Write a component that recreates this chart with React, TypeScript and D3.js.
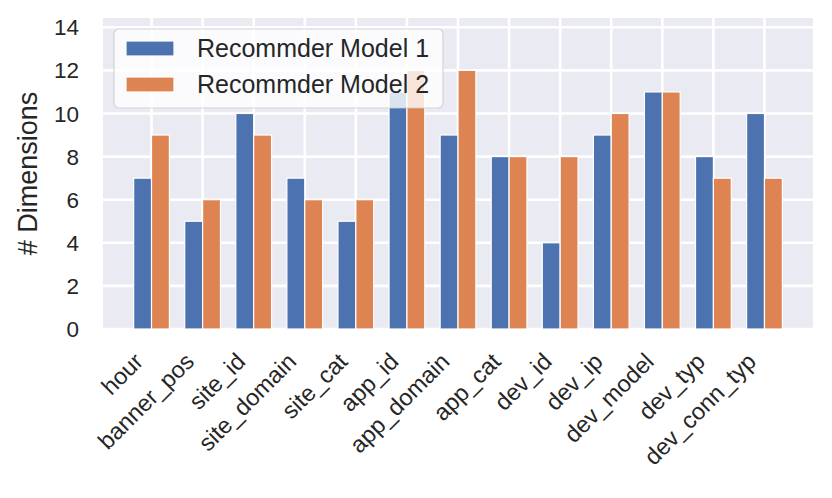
import React, {useEffect, useRef} from 'react';
import * as d3 from "d3";

const features = ["hour", "banner_pos", "site_id", "site_domain", "site_cat", "app_id", "app_domain",
    "app_cat", "dev_id", "dev_ip", "dev_model", "dev_typ", "dev_conn_typ"];
const model1 = [7, 5, 10, 7, 5, 11, 9, 8, 4, 9, 11, 8, 10];
const model2 = [9, 6, 9, 6, 6, 12, 12, 8, 8, 10, 11, 7, 7];
const seriesNames = ["Recommder Model 1", "Recommder Model 2"];
const yTicks = [0, 2, 4, 6, 8, 10, 12, 14];

const colors = ["#4C72B0", "#DD8452"];
const textColor = "#262626";
const font = "'Liberation Sans', Arial, Helvetica, sans-serif";

export default function App() {
    const ref = useRef<SVGSVGElement>(null);

    useEffect(() => {
        const width = 832, height = 498;
        const margin = {top: 18, right: 19, bottom: 169, left: 103};
        const plotW = width - margin.left - margin.right;
        const plotH = height - margin.top - margin.bottom;
        const barW = 0.35;

        const svg = d3.select(ref.current);
        svg.selectAll("*").remove();

        const g = svg.append("g")
            .attr("transform", `translate(${margin.left},${margin.top})`);

        // scales
        const x = d3.scaleLinear().domain([-0.95, features.length - 1 + 0.95]).range([0, plotW]);
        const y = d3.scaleLinear().domain([0, 14.43]).range([plotH, 0]);

        // background + grid
        g.append("rect")
            .attr("width", plotW)
            .attr("height", plotH)
            .attr("fill", "#EAEAF2");

        g.selectAll(".hgrid")
            .data(yTicks)
            .enter().append("line")
            .attr("x1", 0).attr("x2", plotW)
            .attr("y1", d => y(d)).attr("y2", d => y(d))
            .attr("stroke", "white")
            .attr("stroke-width", 2.6);

        g.selectAll(".vgrid")
            .data(features)
            .enter().append("line")
            .attr("x1", (d, i) => x(i)).attr("x2", (d, i) => x(i))
            .attr("y1", 0).attr("y2", plotH)
            .attr("stroke", "white")
            .attr("stroke-width", 2.6);

        // bars
        [model1, model2].forEach((vals, s) => {
            g.selectAll(".bar" + s)
                .data(vals)
                .enter().append("rect")
                .attr("x", (d, i) => x(i + (s === 0 ? -barW : 0)))
                .attr("y", d => y(d))
                .attr("width", x(barW) - x(0))
                .attr("height", d => y(0) - y(d))
                .attr("fill", colors[s])
                .attr("stroke", "white")
                .attr("stroke-width", 1.2);
        });

        // y tick labels
        g.selectAll(".ytick")
            .data(yTicks)
            .enter().append("text")
            .attr("x", -24)
            .attr("y", d => y(d))
            .attr("dy", "0.36em")
            .attr("text-anchor", "end")
            .attr("font-family", font)
            .attr("font-size", 22.5)
            .attr("fill", textColor)
            .text(d => d);

        // x tick labels, rotated
        g.selectAll(".xtick")
            .data(features)
            .enter().append("text")
            .attr("transform", (d, i) => `translate(${x(i) - 7},${plotH + 34}) rotate(-45)`)
            .attr("text-anchor", "end")
            .attr("font-family", font)
            .attr("font-size", 23.5)
            .attr("fill", textColor)
            .text(d => d);

        // y axis label
        svg.append("text")
            .attr("transform", `translate(37,${margin.top + plotH / 2}) rotate(-90)`)
            .attr("text-anchor", "middle")
            .attr("font-family", font)
            .attr("font-size", 27)
            .attr("fill", textColor)
            .text("# Dimensions");

        // legend
        const legend = svg.append("g").attr("transform", "translate(114,29)");
        legend.append("rect")
            .attr("width", 329)
            .attr("height", 79)
            .attr("rx", 5)
            .attr("fill", "white")
            .attr("fill-opacity", 0.8)
            .attr("stroke", "#cccccc")
            .attr("stroke-opacity", 0.8)
            .attr("stroke-width", 1.2);

        seriesNames.forEach((name, s) => {
            legend.append("rect")
                .attr("x", 12)
                .attr("y", 12 + s * 36)
                .attr("width", 48)
                .attr("height", 15)
                .attr("fill", colors[s])
                .attr("stroke", "white")
                .attr("stroke-width", 1.2);
            legend.append("text")
                .attr("x", 83)
                .attr("y", 28 + s * 36)
                .attr("font-family", font)
                .attr("font-size", 25)
                .attr("fill", textColor)
                .text(name);
        });
    }, []);

    return (
        <svg ref={ref} width={832} height={498}
             style={{position: "absolute", left: 0, top: 0, background: "white"}}/>
    );
}
